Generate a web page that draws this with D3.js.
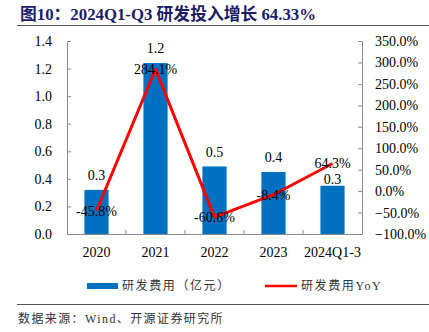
<html>
<head>
<meta charset="utf-8">
<style>
  body { margin: 0; background: #fff; }
  svg text { font-family: "Liberation Serif", "Noto Sans CJK SC", serif; }
</style>
</head>
<body>
<div id="graph"></div>
<script src="https://cdnjs.cloudflare.com/ajax/libs/d3/7.8.5/d3.min.js"></script>
<script>
var categories = ["2020", "2021", "2022", "2023", "2024Q1-3"];
var spending = [0.32, 1.24, 0.49, 0.45, 0.35];       // 研发费用（亿元）
var spendLabels = ["0.3", "1.2", "0.5", "0.4", "0.3"];
var yoy = [-45.8, 284.1, -60.6, -8.4, 64.3];         // 研发费用YoY (%)
var leftTicks = [0, 0.2, 0.4, 0.6, 0.8, 1.0, 1.2, 1.4];
var rightTicks = [-100, -50, 0, 50, 100, 150, 200, 250, 300, 350];

var W = 429, H = 332;
var svg = d3.select("#graph").append("svg")
    .attr("width", W).attr("height", H);

// title + rules
svg.append("text")
    .attr("x", 20).attr("y", 20)
    .attr("font-size", 16.8).attr("font-weight", "bold")
    .attr("fill", "#1c1c6b")
    .text("图10：2024Q1-Q3 研发投入增长 64.33%");
svg.append("line").attr("x1", 17).attr("x2", W).attr("y1", 25.5).attr("y2", 25.5)
    .attr("stroke", "#555").attr("stroke-width", 1.2);
svg.append("line").attr("x1", 17).attr("x2", W).attr("y1", 304.5).attr("y2", 304.5)
    .attr("stroke", "#555").attr("stroke-width", 1);

// plot box (named to avoid clashing with window.top)
var pLeft = 67, pRight = 362, pTop = 41, pBottom = 234;

var x = d3.scaleBand().domain(categories).range([pLeft, pRight]).padding(0);
var yL = d3.scaleLinear().domain([0, 1.4]).range([pBottom, pTop]);
var yR = d3.scaleLinear().domain([-100, 350]).range([pBottom, pTop]);

var axisColor = "#8c8c8c";

var gL = svg.append("g").attr("transform", "translate(" + pLeft + ",0)")
    .call(d3.axisLeft(yL).tickValues(leftTicks).tickFormat(d3.format(".1f"))
        .tickSize(-4).tickSizeOuter(0).tickPadding(15));
var gR = svg.append("g").attr("transform", "translate(" + pRight + ",0)")
    .call(d3.axisRight(yR).tickValues(rightTicks).tickFormat(function(d) { return d3.format(".1f")(d) + "%"; })
        .tickSize(-4).tickSizeOuter(0).tickPadding(13));
var gX = svg.append("g").attr("transform", "translate(0," + pBottom + ")")
    .call(d3.axisBottom(x).tickSize(0).tickPadding(13));

[gL, gR, gX].forEach(function(g) {
    g.selectAll("path").attr("stroke", axisColor);
    g.selectAll("line").attr("stroke", axisColor);
    g.selectAll("text").attr("font-size", 14).attr("fill", "#000")
        .style("font-family", "'Liberation Serif', serif");
});

// x ticks at category boundaries (inward)
svg.append("g").selectAll("line")
    .data(categories.slice(1))
    .enter().append("line")
    .attr("x1", function(d) { return x(d); })
    .attr("x2", function(d) { return x(d); })
    .attr("y1", pBottom).attr("y2", pBottom - 4)
    .attr("stroke", axisColor);

// bars
var barW = x.bandwidth() * 0.41;
svg.append("g").selectAll("rect")
    .data(spending)
    .enter().append("rect")
    .attr("x", function(d, i) { return x(categories[i]) + (x.bandwidth() - barW) / 2; })
    .attr("y", function(d) { return yL(d); })
    .attr("width", barW)
    .attr("height", function(d) { return yL(0) - yL(d); })
    .attr("fill", "#0070c0");

// line
var line = d3.line()
    .x(function(d, i) { return x(categories[i]) + x.bandwidth() / 2; })
    .y(function(d) { return yR(d); });
svg.append("path")
    .datum(yoy)
    .attr("d", line)
    .attr("fill", "none")
    .attr("stroke", "#ff0000")
    .attr("stroke-width", 3)
    .attr("stroke-linejoin", "round");

// bar labels (pushed below the line label when they collide)
svg.append("g").selectAll("text")
    .data(spending)
    .enter().append("text")
    .attr("x", function(d, i) { return x(categories[i]) + x.bandwidth() / 2; })
    .attr("y", function(d, i) {
        var cy = yL(d) - 14.5;
        var ly = yR(yoy[i]);
        if (Math.abs(cy - ly) < 14 && cy > ly) cy = ly + 15.5;
        return cy;
    })
    .attr("dy", "0.35em")
    .attr("text-anchor", "middle")
    .attr("font-size", 14)
    .text(function(d, i) { return spendLabels[i]; });

// line labels
svg.append("g").selectAll("text")
    .data(yoy)
    .enter().append("text")
    .attr("x", function(d, i) { return x(categories[i]) + x.bandwidth() / 2; })
    .attr("y", function(d) { return yR(d); })
    .attr("dy", "0.35em")
    .attr("text-anchor", "middle")
    .attr("font-size", 14)
    .text(function(d) { return d.toFixed(1) + "%"; });

// legend
var lg = svg.append("g");
lg.append("rect").attr("x", 87).attr("y", 283).attr("width", 31).attr("height", 6)
    .attr("fill", "#0070c0");
lg.append("text").attr("x", 122).attr("y", 286).attr("dy", "0.35em")
    .attr("font-size", 12).attr("letter-spacing", 1.6).attr("fill", "#333")
    .text("研发费用（亿元）");
lg.append("line").attr("x1", 265).attr("x2", 297).attr("y1", 286).attr("y2", 286)
    .attr("stroke", "#ff0000").attr("stroke-width", 2.5);
lg.append("text").attr("x", 301).attr("y", 286).attr("dy", "0.35em")
    .attr("font-size", 12).attr("letter-spacing", 1.6).attr("fill", "#333")
    .text("研发费用YoY");

// source
svg.append("text").attr("x", 18).attr("y", 319).attr("dy", "0.35em")
    .attr("font-size", 12).attr("letter-spacing", 1.4).attr("fill", "#333")
    .text("数据来源：Wind、开源证券研究所");
</script>
</body>
</html>
